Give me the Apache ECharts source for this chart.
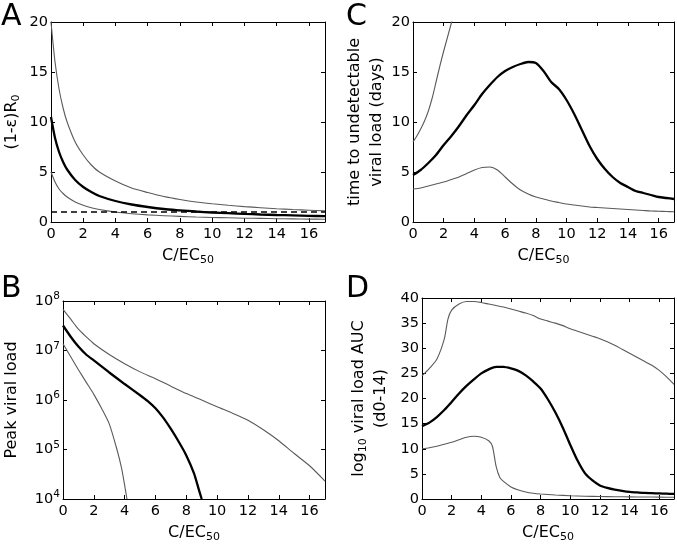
<!DOCTYPE html>
<html>
<head>
<meta charset="utf-8">
<script src="https://cdn.jsdelivr.net/npm/echarts@6/dist/echarts.min.js"></script>
<style>
  html, body { margin: 0; padding: 0; background: #fff; }
  #chart { width: 677px; height: 544px; }
</style>
</head>
<body>
<div id="chart"></div>
<script>
// panel A: (1-eps)R0
const xA = [0, 0.25, 0.5, 0.75, 1, 1.5, 2, 2.5, 3, 4, 5, 6, 7, 8, 9, 10, 11, 12, 13, 14, 15, 16, 17]
const aHigh = [20, 16, 13.3, 11.4, 10, 8, 6.7, 5.7, 5.0, 4.1, 3.4, 2.95, 2.55, 2.25, 2.0, 1.82, 1.67, 1.54, 1.43, 1.33, 1.25, 1.18, 1.11]
const aMid = [10.5, 8.4, 7.0, 6.0, 5.25, 4.2, 3.5, 3.0, 2.6, 2.1, 1.75, 1.5, 1.3, 1.17, 1.05, 0.95, 0.88, 0.81, 0.75, 0.7, 0.66, 0.62, 0.58]
const aLow = [5.0, 4.0, 3.3, 2.85, 2.5, 2.0, 1.67, 1.43, 1.25, 1.0, 0.83, 0.71, 0.63, 0.56, 0.5, 0.45, 0.42, 0.38, 0.36, 0.33, 0.31, 0.29, 0.28]
const aThreshold = 1

// panel B: peak viral load
const xBHigh = [0, 0.5, 1, 1.5, 2, 3, 4, 5, 6, 7, 8, 9, 10, 11, 12, 13, 14, 15, 16, 17]
const bHigh = [6.8e7, 4.3e7, 2.7e7, 1.9e7, 1.37e7, 8.3e6, 5.4e6, 3.7e6, 2.7e6, 1.9e6, 1.35e6, 1.0e6, 7.3e5, 5.4e5, 3.9e5, 2.5e5, 1.5e5, 8.3e4, 4.7e4, 2.3e4]
const xBMid = [0, 0.5, 1, 1.5, 2, 3, 4, 5, 5.5, 6, 6.5, 7, 7.5, 8, 8.5, 8.8, 9]
const bMid = [3.2e7, 1.9e7, 1.2e7, 8.3e6, 6.3e6, 3.6e6, 2.1e6, 1.25e6, 9.5e5, 6.8e5, 4.4e5, 2.6e5, 1.45e5, 7.6e4, 3.3e4, 1.6e4, 1.0e4]
const xBLow = [0, 0.5, 1, 1.5, 2, 2.5, 3, 3.5, 3.8, 4.0, 4.15]
const bLow = [1.37e7, 7.5e6, 4.1e6, 2.3e6, 1.3e6, 6.8e5, 3.3e5, 1.0e5, 4.2e4, 1.9e4, 1.0e4]

// panel C: time to undetectable viral load
const xCHigh = [0, 0.25, 0.5, 0.75, 1, 1.25, 1.5, 1.75, 2, 2.25, 2.5, 2.75]
const cHigh = [8.0, 8.6, 9.3, 10.1, 11.1, 12.4, 14.0, 15.6, 17.1, 18.5, 19.9, 21.3]
const xC = [0, 0.5, 1, 1.5, 2, 2.5, 3, 3.5, 4, 4.5, 5, 5.5, 6, 6.5, 7, 7.5, 8, 8.5, 9, 9.5, 10, 10.5, 11, 11.5, 12, 12.5, 13, 13.5, 14, 14.5, 15, 15.5, 16, 16.5, 17]
const cMid = [4.7, 5.2, 5.9, 6.7, 7.7, 8.6, 9.6, 10.7, 11.7, 12.8, 13.7, 14.5, 15.1, 15.5, 15.8, 16.0, 15.9, 15.1, 14.0, 13.3, 12.2, 10.8, 9.2, 7.6, 6.3, 5.3, 4.5, 3.9, 3.5, 3.1, 2.9, 2.7, 2.5, 2.4, 2.3]
const cLow = [3.3, 3.4, 3.6, 3.8, 4.0, 4.25, 4.5, 4.85, 5.2, 5.45, 5.5, 5.2, 4.5, 3.8, 3.2, 2.8, 2.5, 2.3, 2.1, 1.95, 1.8, 1.7, 1.6, 1.5, 1.45, 1.4, 1.35, 1.3, 1.25, 1.2, 1.15, 1.1, 1.08, 1.05, 1.03]

// panel D: log10 viral load AUC
const xDHigh = [0, 0.5, 1, 1.5, 1.75, 2, 2.5, 3, 3.5, 4, 4.5, 5, 5.5, 6, 6.5, 7, 7.5, 8, 8.5, 9, 9.5, 10, 10.5, 11, 11.5, 12, 12.5, 13, 13.5, 14, 14.5, 15, 15.5, 16, 16.5, 17]
const dHigh = [24.5, 26.0, 27.8, 31.8, 35.8, 37.6, 38.8, 39.3, 39.3, 39.1, 38.8, 38.5, 38.2, 37.8, 37.4, 37.0, 36.5, 35.8, 35.4, 35.0, 34.5, 33.9, 33.4, 32.9, 32.4, 31.9, 31.3, 30.6, 29.8, 29.0, 28.2, 27.4, 26.6, 25.6, 24.3, 22.8]
const xD = [0, 0.5, 1, 1.5, 2, 2.5, 3, 3.5, 4, 4.5, 5, 5.5, 6, 6.5, 7, 7.5, 8, 8.5, 9, 9.5, 10, 10.5, 11, 11.5, 12, 12.5, 13, 13.5, 14, 14.5, 15, 15.5, 16, 16.5, 17]
const dMid = [14.5, 15.2, 16.3, 17.7, 19.3, 21.0, 22.5, 23.8, 25.0, 25.8, 26.3, 26.3, 26.0, 25.5, 24.6, 23.4, 22.0, 19.8, 17.2, 14.2, 10.8, 7.6, 5.1, 3.7, 2.7, 2.2, 1.85, 1.6, 1.4, 1.3, 1.2, 1.15, 1.1, 1.05, 1.0]
const xDLow = [0, 0.5, 1, 1.5, 2, 2.5, 3, 3.5, 4, 4.5, 4.75, 5, 5.25, 5.5, 6, 6.5, 7, 7.5, 8, 9, 10, 11, 12, 13, 14, 15, 16, 17]
const dLow = [10.0, 10.2, 10.5, 10.9, 11.3, 11.8, 12.3, 12.5, 12.3, 11.6, 10.5, 6.5, 4.3, 3.5, 2.4, 1.8, 1.4, 1.15, 1.0, 0.8, 0.65, 0.55, 0.5, 0.45, 0.42, 0.4, 0.37, 0.35]

const xTicks = [0, 2, 4, 6, 8, 10, 12, 14, 16]

const FONT = 'DejaVu Sans'
const GREY = '#5a5a5a'
const zip = (xs, ys) => xs.map((x, i) => [x, ys[i]])

const grids = [
  { left: 50, top: 22, width: 275, height: 200 },   // A
  { left: 413, top: 22, width: 261, height: 200 },  // C
  { left: 54, top: 301, width: 271, height: 198 },  // B
  { left: 422, top: 298, width: 252, height: 201 }  // D
]

const lineStyleAxis = { color: '#000', width: 1 }
const xAxes = []
const yAxes = []

grids.forEach((g, i) => {
  xAxes.push({
    type: 'value', gridIndex: i, min: 0, max: 17, interval: 2, position: 'bottom',
    axisLine: { onZero: false, lineStyle: lineStyleAxis },
    axisTick: { inside: true, length: 4, lineStyle: lineStyleAxis },
    axisLabel: { color: '#000', fontFamily: FONT, fontSize: 14.5, margin: 5,
      formatter: v => (xTicks.includes(v) ? String(v) : '') },
    splitLine: { show: false },
    name: '{n|C/EC}{s|50}', nameLocation: 'middle', nameGap: 24,
    nameTextStyle: { rich: {
      n: { fontFamily: FONT, fontSize: 16, color: '#000' },
      s: { fontFamily: FONT, fontSize: 11, color: '#000', padding: [9, 0, 0, 0] }
    } }
  })
  xAxes.push({
    type: 'value', gridIndex: i, min: 0, max: 17, interval: 2, position: 'top',
    axisLine: { onZero: false, lineStyle: lineStyleAxis },
    axisTick: { inside: true, length: 4, lineStyle: lineStyleAxis },
    axisLabel: { show: false }, splitLine: { show: false }
  })
})

const yCfg = [
  { min: 0, max: 20, interval: 5,
    name: '{n|(1-ε)R}{s|0}', nameGap: 28 },
  { min: 0, max: 20, interval: 5,
    name: '{n|time to undetectable}\n{n|viral load (days)}', nameGap: 25 },
  { type: 'log', min: 1e4, max: 1e8,
    name: '{n|Peak viral load}', nameGap: 40 },
  { min: 0, max: 40, interval: 5,
    name: '{n|log}{s|10}{n| viral load AUC}\n{n|(d0-14)}', nameGap: 30 }
]

yCfg.forEach((c, i) => {
  const isLog = c.type === 'log'
  const base = {
    type: isLog ? 'log' : 'value', gridIndex: i, min: c.min, max: c.max,
    axisLine: { onZero: false, lineStyle: lineStyleAxis },
    axisTick: { inside: true, length: 4, lineStyle: lineStyleAxis },
    splitLine: { show: false }
  }
  if (isLog) base.logBase = 10
  else base.interval = c.interval
  yAxes.push(Object.assign({}, base, {
    position: 'left',
    axisLabel: {
      color: '#000', fontFamily: FONT, fontSize: 14.5, margin: 3,
      formatter: isLog ? (v => '{b|10}{e|' + Math.round(Math.log10(v)) + '}') : undefined,
      rich: {
        b: { fontFamily: FONT, fontSize: 14.5, color: '#000' },
        e: { fontFamily: FONT, fontSize: 10.5, color: '#000', padding: [0, 0, 9, 0] }
      }
    },
    name: c.name, nameLocation: 'middle', nameRotate: 90, nameGap: c.nameGap,
    nameTextStyle: { lineHeight: 22, rich: {
      n: { fontFamily: FONT, fontSize: 16, color: '#000', lineHeight: 22 },
      s: { fontFamily: FONT, fontSize: 11, color: '#000', padding: [9, 0, 0, 0], lineHeight: 22 }
    } }
  }))
  yAxes.push(Object.assign({}, base, {
    position: 'right', axisLabel: { show: false }
  }))
})

function line(panel, data, kind) {
  const thick = kind === 'mid'
  return {
    type: 'line', xAxisIndex: panel * 2, yAxisIndex: panel * 2, data: data,
    showSymbol: false, smooth: 0.25, silent: true, animation: false,
    lineStyle: { color: thick ? '#000' : GREY, width: thick ? 2.3 : 1.1 }
  }
}

const series = [
  line(0, zip(xA, aHigh), 'grey'),
  line(0, zip(xA, aMid), 'mid'),
  line(0, zip(xA, aLow), 'grey'),
  { type: 'line', xAxisIndex: 0, yAxisIndex: 0, data: [[0, aThreshold], [17, aThreshold]],
    showSymbol: false, silent: true, animation: false,
    lineStyle: { color: '#000', width: 1.5, type: [6, 4] } },
  line(1, zip(xCHigh, cHigh), 'grey'),
  line(1, zip(xC, cMid), 'mid'),
  line(1, zip(xC, cLow), 'grey'),
  line(2, zip(xBHigh, bHigh), 'grey'),
  line(2, zip(xBMid, bMid), 'mid'),
  line(2, zip(xBLow, bLow), 'grey'),
  line(3, zip(xDHigh, dHigh), 'grey'),
  line(3, zip(xD, dMid), 'mid'),
  line(3, zip(xDLow, dLow), 'grey')
]

const letters = [
  { t: 'A', x: 1, y: 2 },
  { t: 'C', x: 346, y: 2 },
  { t: 'B', x: 1, y: 274 },
  { t: 'D', x: 346, y: 274 }
]

const chart = echarts.init(document.getElementById('chart'))
chart.setOption({
  animation: false,
  backgroundColor: '#fff',
  grid: grids,
  xAxis: xAxes,
  yAxis: yAxes,
  series: series,
  graphic: letters.map(l => ({
    type: 'text', left: l.x, top: l.y,
    style: { text: l.t, fontFamily: FONT, fontSize: 30, fill: '#000' }
  }))
})
</script>
</body>
</html>
